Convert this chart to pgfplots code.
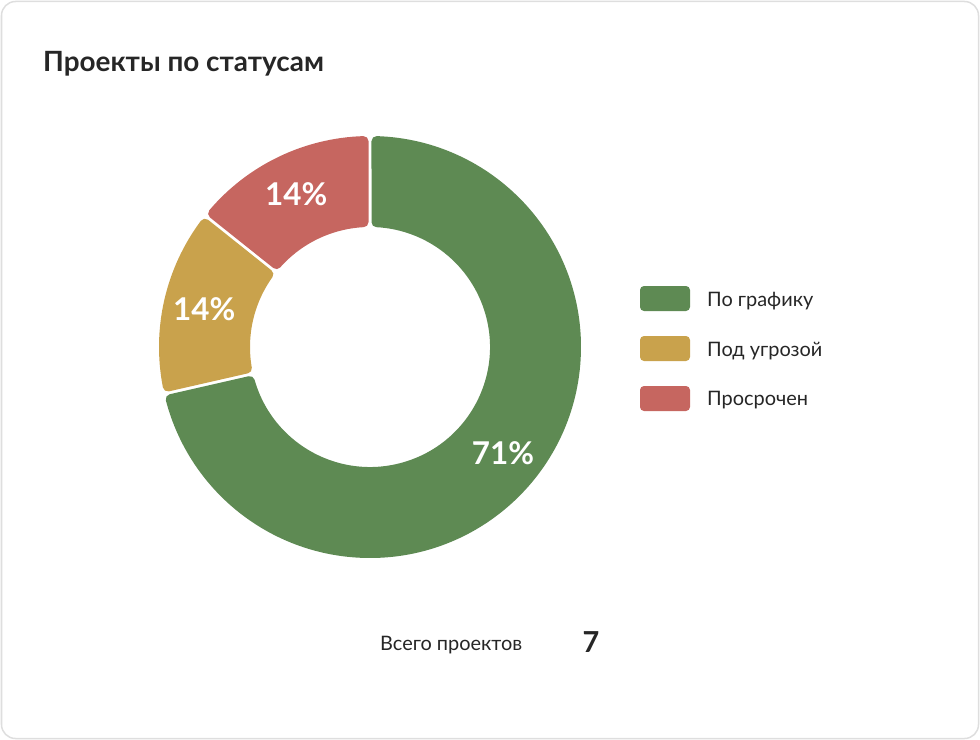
\documentclass[border=0pt]{standalone}
\usepackage{fontspec}
\setmainfont{Lato}
\usepackage{pgfplots}
\pgfplotsset{compat=1.18}
\usepackage{pgfplotstable}

\definecolor{cgreen}{HTML}{5E8A53}
\definecolor{cyellow}{HTML}{C9A24C}
\definecolor{cred}{HTML}{C66660}
\definecolor{ctext}{HTML}{262626}

\pgfplotstableread[col sep=comma]{
label,value
По графику,5
Под угрозой,1
Просрочен,1
}\statusdata

\pgfplotstablegetelem{0}{value}\of\statusdata \let\vA\pgfplotsretval
\pgfplotstablegetelem{1}{value}\of\statusdata \let\vB\pgfplotsretval
\pgfplotstablegetelem{2}{value}\of\statusdata \let\vC\pgfplotsretval
\pgfplotstablegetelem{0}{label}\of\statusdata \let\lA\pgfplotsretval
\pgfplotstablegetelem{1}{label}\of\statusdata \let\lB\pgfplotsretval
\pgfplotstablegetelem{2}{label}\of\statusdata \let\lC\pgfplotsretval

\def\Rout{211}
\def\Rin{120}
\def\rc{5}
\def\gap{3}
\def\Rlab{170}

% donut segment: color, start angle (larger), end angle (smaller)
\newcommand\seg[3]{%
  \pgfmathsetmacro\Ro{\Rout-\rc}%
  \pgfmathsetmacro\Ri{\Rin+\rc}%
  \pgfmathsetmacro\dd{\gap/2+\rc}%
  \pgfmathsetmacro\dO{asin(\dd/\Ro)}%
  \pgfmathsetmacro\dI{asin(\dd/\Ri)}%
  \pgfmathsetmacro\sO{#2-\dO}\pgfmathsetmacro\eO{#3+\dO}%
  \pgfmathsetmacro\sI{#2-\dI}\pgfmathsetmacro\eI{#3+\dI}%
  \pgfmathsetmacro\lw{2*\rc}%
  \filldraw[fill=#1, draw=#1, line width=\lw bp, line join=round]
    (axis cs:{\Ro*cos(\sO)},{\Ro*sin(\sO)}) arc[start angle=\sO, end angle=\eO, radius=\Ro bp]
    -- (axis cs:{\Ri*cos(\eI)},{\Ri*sin(\eI)}) arc[start angle=\eI, end angle=\sI, radius=\Ri bp]
    -- cycle;
}
\newcommand\seglabel[3]{% start, end, text
  \pgfmathsetmacro\am{(#1+#2)/2}%
  \node[text=white, font=\fontsize{31.5}{34}\selectfont\bfseries, inner sep=0pt]
    at (axis cs:{\Rlab*cos(\am)},{\Rlab*sin(\am)}) {#3\%};
}

\begin{document}
\begin{tikzpicture}[x=1bp,y=1bp]
\path (0,0) rectangle (980,-740);
\draw[draw=black!13, line width=1.5bp, rounded corners=14bp] (1.5,-1.5) rectangle (978.5,-738.5);

\pgfmathsetmacro\tot{\vA+\vB+\vC}
\pgfmathsetmacro\aA{90}
\pgfmathsetmacro\aB{\aA-360*\vA/\tot}
\pgfmathsetmacro\aC{\aB-360*\vB/\tot}
\pgfmathsetmacro\aD{\aC-360*\vC/\tot}
\pgfmathtruncatemacro\pA{round(100*\vA/\tot)}
\pgfmathtruncatemacro\pB{round(100*\vB/\tot)}
\pgfmathtruncatemacro\pC{round(100*\vC/\tot)}
\pgfmathtruncatemacro\totI{\tot}

\node[anchor=base west, inner sep=0pt, text=ctext, font=\fontsize{28}{32}\selectfont\bfseries] at (43,-72) {Проекты по статусам};

\begin{axis}[at={(370,-347)}, anchor=origin, x=1bp, y=1bp,
  xmin=-215, xmax=215, ymin=-215, ymax=215, hide axis, clip=false]
\pgfplotsextra{\seg{cgreen}{\aA}{\aB}}
\pgfplotsextra{\seg{cyellow}{\aB}{\aC}}
\pgfplotsextra{\seg{cred}{\aC}{\aD}}
\pgfplotsextra{\seglabel{\aA}{\aB}{\pA}}
\pgfplotsextra{\seglabel{\aB}{\aC}{\pB}}
\pgfplotsextra{\seglabel{\aC}{\aD}{\pC}}
\end{axis}

% legend
\fill[cgreen, rounded corners=4bp] (640,-286) rectangle (690,-311);
\fill[cyellow, rounded corners=4bp] (640,-336) rectangle (690,-361);
\fill[cred, rounded corners=4bp] (640,-386) rectangle (690,-411);
\begin{scope}[every node/.style={anchor=base west, inner sep=0pt, text=ctext, font=\fontsize{20}{23}\selectfont}]
\node at (707,-306) {\lA};
\node at (707,-356) {\lB};
\node at (707,-405) {\lC};
\end{scope}

% total
\node[anchor=base west, inner sep=0pt, text=ctext, font=\fontsize{20}{23}\selectfont] at (380,-650) {Всего проектов};
\node[anchor=base, inner sep=0pt, text=ctext, font=\fontsize{29}{32}\selectfont\bfseries] at (591,-652) {\totI};
\end{tikzpicture}
\end{document}
